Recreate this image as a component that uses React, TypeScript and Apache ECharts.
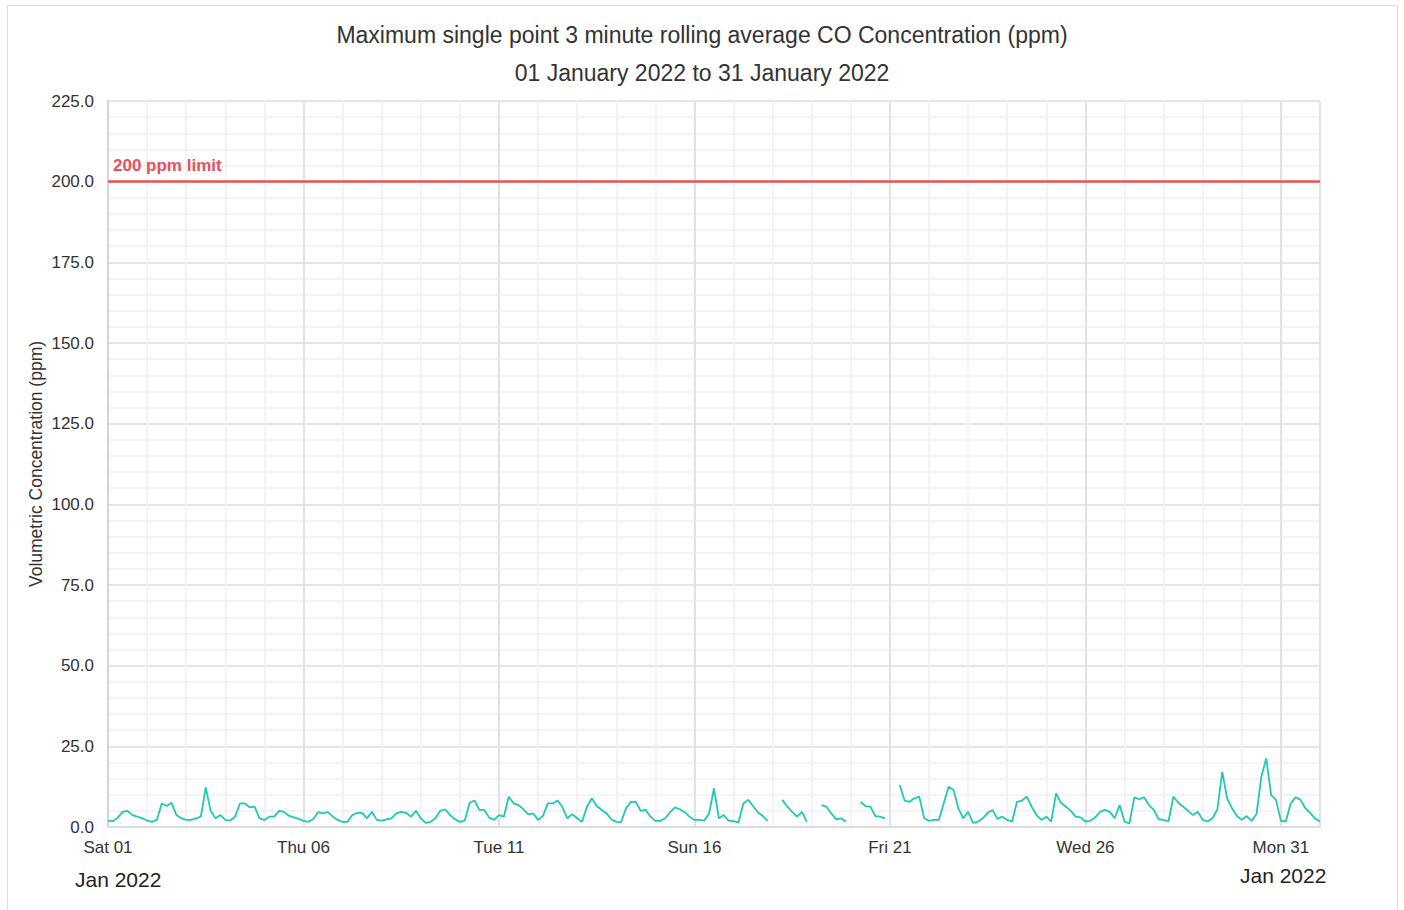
import React, { useEffect, useRef } from 'react';
import * as echarts from 'echarts';

const chartTitle = 'Maximum single point 3 minute rolling average CO Concentration (ppm)';
const chartSubtitle = '01 January 2022 to 31 January 2022';
const yAxisName = 'Volumetric Concentration (ppm)';
const monthLabel = 'Jan 2022';
const limitValue = 200;
const limitLabel = '200 ppm limit';

const yMin = 0;
const yMax = 225;
const yStep = 25;
const daysInRange = 31;
const dayTickStep = 5;
const dayTickLabels = ['Sat 01', 'Thu 06', 'Tue 11', 'Sun 16', 'Fri 21', 'Wed 26', 'Mon 31'];

// readings every 3 hours (00,03,06,...,21) per day, ppm; null = no data
const stepHours = 3;
const jan01 = [2.0, 1.8, 2.9, 4.7, 5.0, 3.7, 3.2, 2.7];
const jan02 = [2.0, 1.6, 2.2, 7.3, 6.5, 7.5, 3.7, 2.7];
const jan03 = [2.2, 2.2, 2.7, 3.2, 12.3, 5.0, 2.7, 3.7];
const jan04 = [2.2, 2.0, 3.2, 7.3, 7.3, 6.1, 6.3, 2.7];
const jan05 = [2.2, 3.2, 3.2, 5.0, 4.7, 3.5, 3.0, 2.5];
const jan06 = [1.9, 1.6, 2.5, 4.6, 4.2, 4.6, 3.2, 2.2];
const jan07 = [1.6, 1.6, 3.7, 4.4, 4.4, 2.7, 4.7, 2.2];
const jan08 = [2.0, 2.4, 2.7, 4.2, 4.7, 4.4, 3.2, 5.0];
const jan09 = [2.7, 1.3, 1.6, 2.7, 5.0, 5.5, 3.7, 2.4];
const jan10 = [1.6, 2.0, 7.5, 8.2, 5.3, 5.3, 2.9, 2.2];
const jan11 = [3.7, 3.2, 9.4, 7.3, 6.8, 5.5, 3.9, 4.2];
const jan12 = [2.2, 3.4, 7.3, 7.3, 8.2, 6.1, 2.7, 4.0];
const jan13 = [2.7, 1.6, 6.3, 8.9, 6.5, 5.3, 4.2, 2.4];
const jan14 = [1.6, 1.5, 5.8, 7.8, 7.8, 5.0, 5.3, 3.2];
const jan15 = [1.9, 1.9, 2.7, 4.5, 6.1, 5.5, 4.6, 3.2];
const jan16 = [2.2, 2.2, 2.0, 4.2, 12.0, 2.7, 3.7, 2.0];
const jan17 = [1.8, 1.4, 7.3, 8.4, 6.5, 4.5, 3.4, 1.9];
const jan18 = [null, null, 8.4, 6.3, 4.7, 3.2, 4.7, 1.6];
const jan19 = [null, null, 6.8, 6.3, 4.2, 2.4, 2.7, 1.6];
const jan20 = [null, null, 7.8, 6.5, 6.3, 3.4, 3.2, 2.7];
const jan21 = [null, null, 13.0, 8.2, 7.8, 8.9, 9.4, 2.7];
const jan22 = [1.9, 2.2, 2.2, 7.3, 12.5, 11.5, 5.8, 2.7];
const jan23 = [4.7, 1.3, 1.6, 2.7, 4.4, 5.3, 2.5, 3.2];
const jan24 = [2.2, 1.7, 7.8, 8.2, 9.4, 6.3, 3.7, 2.2];
const jan25 = [3.2, 1.7, 10.4, 7.5, 6.3, 5.0, 3.2, 3.0];
const jan26 = [1.7, 1.9, 3.0, 4.7, 5.3, 4.7, 2.7, 6.8];
const jan27 = [1.7, 1.1, 9.2, 8.6, 9.2, 6.8, 5.3, 2.4];
const jan28 = [2.2, 1.7, 9.4, 7.5, 6.3, 5.0, 3.7, 4.7];
const jan29 = [2.2, 1.7, 2.7, 5.5, 17.1, 8.9, 5.8, 3.4];
const jan30 = [2.2, 3.4, 1.9, 4.0, 15.6, 21.3, 9.9, 8.4];
const jan31 = [1.9, 1.7, 7.3, 9.2, 8.4, 5.8, 4.4, 2.6];
const feb01Midnight = [1.7];

const allReadings: (number | null)[] = [
  ...jan01, ...jan02, ...jan03, ...jan04, ...jan05, ...jan06, ...jan07, ...jan08,
  ...jan09, ...jan10, ...jan11, ...jan12, ...jan13, ...jan14, ...jan15, ...jan16,
  ...jan17, ...jan18, ...jan19, ...jan20, ...jan21, ...jan22, ...jan23, ...jan24,
  ...jan25, ...jan26, ...jan27, ...jan28, ...jan29, ...jan30, ...jan31, ...feb01Midnight,
];

const FONT = "'Liberation Sans', Arial, sans-serif";

export default function App() {
  const ref = useRef<HTMLDivElement>(null);

  useEffect(() => {
    if (!ref.current) return;
    const chart = echarts.init(ref.current, undefined, { renderer: 'svg' });
    const seriesData = allReadings.map((v, i) => [(i * stepHours) / 24, v]);

    chart.setOption({
      animation: false,
      backgroundColor: '#ffffff',
      textStyle: { fontFamily: FONT },
      title: [
        {
          text: chartTitle,
          left: 'center',
          top: 18,
          textStyle: { fontSize: 23, fontWeight: 'normal', color: '#333333', fontFamily: FONT },
        },
        {
          text: chartSubtitle,
          left: 'center',
          top: 56,
          textStyle: { fontSize: 23, fontWeight: 'normal', color: '#333333', fontFamily: FONT },
        },
      ],
      grid: { left: 108, right: 84, top: 101, bottom: 83, containLabel: false },
      xAxis: [
        {
          type: 'value',
          min: 0,
          max: daysInRange,
          interval: dayTickStep,
          z: 2,
          axisLine: { show: true, lineStyle: { color: '#dddddd', width: 2 } },
          axisTick: { show: false },
          axisLabel: {
            color: '#333333',
            fontSize: 17,
            margin: 12,
            fontFamily: FONT,
            formatter: (v: number) => {
              const idx = Math.round(v / dayTickStep);
              if (v % dayTickStep !== 0) return '';
              return dayTickLabels[idx] ?? '';
            },
          },
          splitLine: { show: true, lineStyle: { color: '#dcdcdc', width: 1.5 } },
        },
        {
          type: 'value',
          min: 0,
          max: daysInRange,
          interval: 1,
          z: 0,
          position: 'bottom',
          axisLine: { show: false },
          axisTick: { show: false },
          axisLabel: { show: false },
          splitLine: { show: true, lineStyle: { color: '#f0f0f0', width: 1.5 } },
        },
      ],
      yAxis: {
        type: 'value',
        min: yMin,
        max: yMax,
        interval: yStep,
        name: yAxisName,
        nameLocation: 'middle',
        nameGap: 63,
        nameMoveOverlap: false,
        nameTextStyle: { fontSize: 17.5, color: '#333333', fontFamily: FONT },
        axisLine: { show: true, lineStyle: { color: '#bbbbbb', width: 2 } },
        axisTick: { show: false },
        axisLabel: {
          color: '#333333',
          fontSize: 17,
          margin: 14,
          fontFamily: FONT,
          formatter: (v: number) => v.toFixed(1),
        },
        splitLine: { show: true, lineStyle: { color: '#dcdcdc', width: 1.5 } },
        minorTick: { show: false, splitNumber: 5 },
        minorSplitLine: { show: true, lineStyle: { color: '#f0f0f0', width: 1.5 } },
      },
      graphic: [
        {
          type: 'rect',
          silent: true,
          shape: { x: 7.5, y: 5.5, width: 1390, height: 930 },
          style: { fill: 'none', stroke: '#dddddd', lineWidth: 1 },
          z: -10,
        },
        {
          type: 'text',
          left: 75,
          top: 869,
          style: { text: monthLabel, fontSize: 21, fill: '#222222', fontFamily: FONT },
        },
        {
          type: 'text',
          left: 1240,
          top: 865,
          style: { text: monthLabel, fontSize: 21, fill: '#222222', fontFamily: FONT },
        },
      ],
      series: [
        {
          type: 'line',
          xAxisIndex: 0,
          data: seriesData,
          showSymbol: false,
          connectNulls: false,
          lineStyle: { color: '#21c7b7', width: 1.8 },
          itemStyle: { color: '#21c7b7' },
          z: 3,
          markLine: {
            silent: true,
            symbol: 'none',
            lineStyle: { color: '#e8505b', type: 'solid', width: 2.5 },
            label: {
              show: true,
              position: 'insideStartTop',
              distance: [5, 8],
              formatter: limitLabel,
              color: '#e8505b',
              fontWeight: 'bold',
              fontSize: 17,
              fontFamily: FONT,
            },
            data: [{ yAxis: limitValue }],
          },
        },
      ],
    });

    return () => chart.dispose();
  }, []);

  return (
    <div
      ref={ref}
      style={{ position: 'absolute', left: 0, top: 0, width: 1404, height: 910 }}
    />
  );
}
